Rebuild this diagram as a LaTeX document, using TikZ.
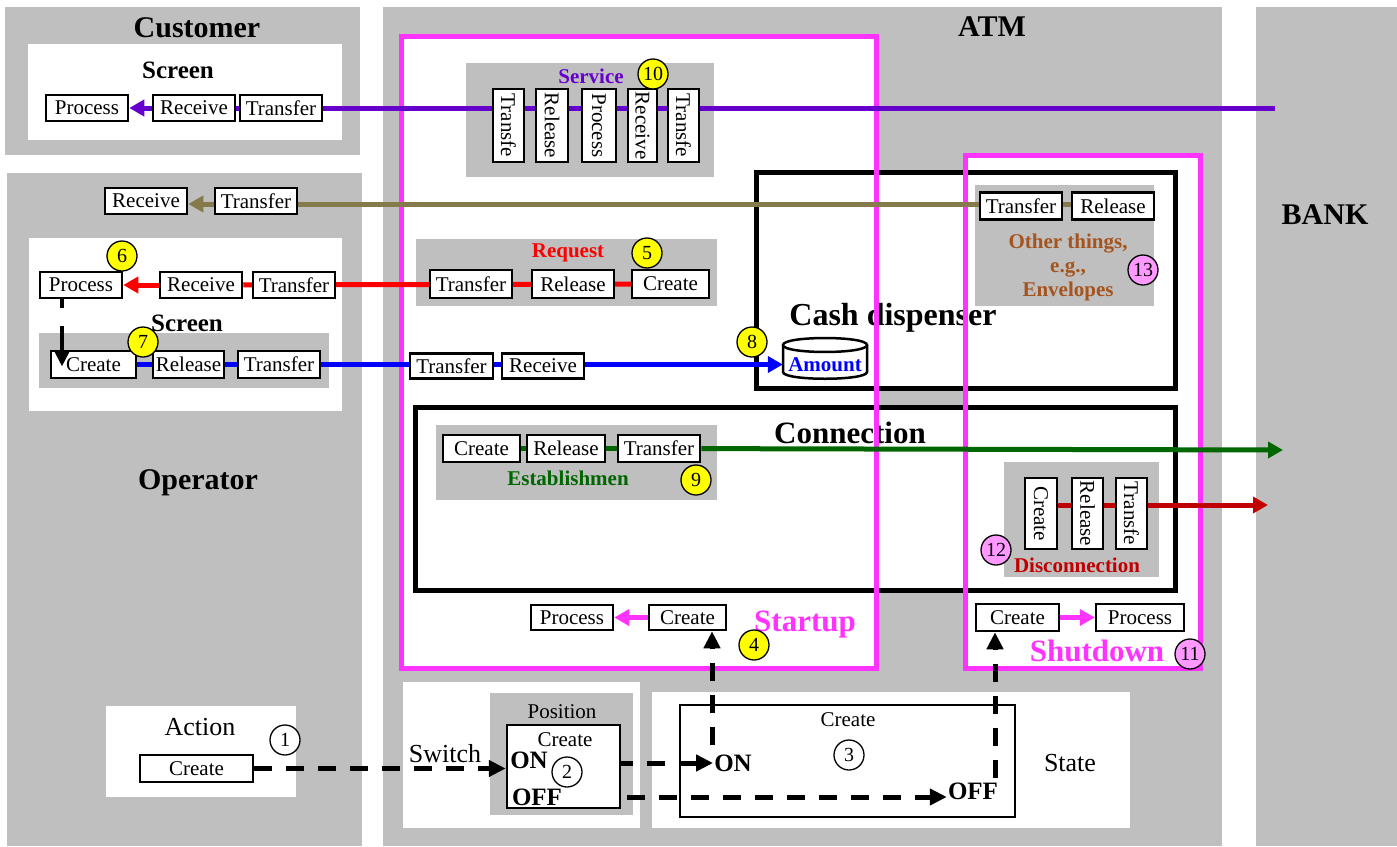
\documentclass[tikz,border=0pt]{standalone}
\usepackage{fontspec}
\setmainfont{Liberation Serif}
\usetikzlibrary{arrows.meta}
\definecolor{pgray}{RGB}{191,191,191}
\definecolor{mag}{RGB}{255,51,255}
\definecolor{purp}{RGB}{102,0,204}
\definecolor{oliv}{RGB}{133,122,76}
\definecolor{grn}{RGB}{0,102,0}
\definecolor{dred}{RGB}{192,0,0}
\definecolor{brn}{RGB}{166,84,30}
\definecolor{pnk}{RGB}{255,153,255}
\definecolor{yel}{RGB}{255,255,0}
\definecolor{rd}{RGB}{255,0,0}
\definecolor{bl}{RGB}{0,0,255}
\newcommand\myfs[1]{\fontsize{#1}{#1}\selectfont}
\pgfdeclarelayer{back}\pgfdeclarelayer{mid}\pgfsetlayers{back,mid,main}
\tikzset{
 bx/.style={draw, line width=2.5pt, fill=white, inner sep=0pt, font=\myfs{21}},
 vbx/.style={bx, rotate=-90},
 circ/.style={circle, draw, line width=1.3pt, minimum size=30pt, inner sep=0pt, font=\myfs{20}},
 ycirc/.style={circ, fill=yel},
 pcirc/.style={circ, fill=pnk},
 wcirc/.style={circ, fill=white},
 conn/.style={line width=5pt},
 tip/.style={-{Triangle[length=15pt,width=16pt]}},
 dasharr/.style={line width=5pt, dash pattern=on 18pt off 14pt, -{Triangle[length=17pt,width=16pt]}},
 bigbox/.style={draw, line width=5pt, fill=white},
 magbox/.style={draw=mag, line width=5pt},
 title/.style={font=\myfs{30}\bfseries},
 sublabel/.style={font=\myfs{21}\bfseries},
}
\begin{document}
\begin{tikzpicture}[x=1pt,y=-1pt]
\useasboundingbox (0,0) rectangle (1397,846);
\begin{pgfonlayer}{back}
\fill[white] (0,0) rectangle (1397,846);
\fill[pgray] (5,7) rectangle (360,155);
\fill[pgray] (7,173) rectangle (362,846);
\fill[pgray] (383,7) rectangle (1222,846);
\fill[pgray] (1256,7) rectangle (1397,846);
\fill[white] (28,44) rectangle (342,140);
\fill[white] (29,238) rectangle (342,411);
\fill[pgray] (39,333) rectangle (329,388);
\fill[white] (401,36) rectangle (876,668);
\fill[white] (965,155) rectangle (1200,668);
\fill[pgray] (466,63) rectangle (714,177);
\fill[pgray] (416,239) rectangle (717,306);
\draw[bigbox] (756,172) rectangle (1175,388);
\draw[bigbox] (415,407) rectangle (1175,590);
\fill[pgray] (975,185) rectangle (1154,306);
\fill[pgray] (436,425) rectangle (717,500);
\fill[pgray] (1004,462) rectangle (1159,577);
\node[font=\myfs{32}\bfseries] (cashT) at (893,318) {Cash dispenser};
\node[font=\myfs{31}\bfseries] (connT) at (850,433) {Connection};
\draw[magbox] (401,36) rectangle (876,668);
\draw[magbox] (965,155) rectangle (1200,668);
\fill[white] (106,706) rectangle (296,797);
\fill[white] (403,682) rectangle (640,828);
\fill[pgray] (490,693) rectangle (633,815);
\fill[white] (652,692) rectangle (1130,828);
\end{pgfonlayer}

% titles
\node[title] (tCust) at (197,28) {Customer};
\node[title] (tAtm) at (992,27) {ATM};
\node[title] (tBank) at (1325,215) {BANK};
\node[title] (tOp) at (198,483) {Operator};
\node[font=\myfs{25}\bfseries] (scr1) at (178,70) {Screen};
\node[font=\myfs{25}\bfseries] (scr2) at (187,323) {Screen};

% customer screen
\node[bx, minimum width=82pt, minimum height=26pt] (cP) at (87,108) {Process};
\node[bx, minimum width=82pt, minimum height=26pt] (cR) at (194,108) {Receive};
\node[bx, minimum width=82pt, minimum height=26pt] (cT) at (281,108) {Transfer};

% operator
\node[bx, minimum width=82pt, minimum height=26pt] (oR) at (146,201) {Receive};
\node[bx, minimum width=82pt, minimum height=26pt] (oT) at (256,201) {Transfer};
\node[bx, minimum width=82pt, minimum height=26pt] (oP) at (81,285) {Process};
\node[bx, minimum width=82pt, minimum height=26pt] (oR2) at (201,285) {Receive};
\node[bx, minimum width=82pt, minimum height=26pt] (oT2) at (294,285) {Transfer};
\node[bx, minimum width=85pt, minimum height=27pt] (oC) at (93.5,364.5) {Create};
\node[bx, minimum width=71pt, minimum height=27pt] (oRl) at (188.5,364.5) {Release};
\node[bx, minimum width=82pt, minimum height=27pt] (oT3) at (279,364.5) {Transfer};

% service
\node[sublabel, text=purp] (svcL) at (591,76) {Service};
\node[vbx, minimum width=73pt, minimum height=31pt] (sT1) at (508.5,125.5) {Transfe};
\node[vbx, minimum width=73pt, minimum height=32pt] (sRl) at (552,125.5) {Release};
\node[vbx, minimum width=73pt, minimum height=34pt] (sP) at (599,125.5) {Process};
\node[vbx, minimum width=73pt, minimum height=29pt] (sRc) at (642.5,125.5) {Receive};
\node[vbx, minimum width=73pt, minimum height=31pt] (sT2) at (683.5,125.5) {Transfe};

% request
\node[sublabel, text=rd] (rqL) at (568,253) {Request};
\node[bx, minimum width=82pt, minimum height=28pt] (rqT) at (471,284) {Transfer};
\node[bx, minimum width=82pt, minimum height=28pt] (rqRl) at (573,284) {Release};
\node[bx, minimum width=77pt, minimum height=28pt] (rqC) at (670.5,284) {Create};

% ATM transfer/receive
\node[bx, minimum width=83pt, minimum height=25pt] (aT) at (451.5,366) {Transfer};
\node[bx, minimum width=82pt, minimum height=25pt] (aR) at (543,366) {Receive};

% amount cylinder
\fill[white] (783,345) -- (783,372) .. controls (783,381) and (867,381) .. (867,372) -- (867,345) -- cycle;
\draw[line width=2.5pt] (783,345) -- (783,372) .. controls (783,381) and (867,381) .. (867,372) -- (867,345);
\draw[line width=2.5pt, fill=white] (783,345) .. controls (783,335.7) and (867,335.7) .. (867,345) .. controls (867,354.3) and (783,354.3) .. (783,345) -- cycle;
\node[font=\myfs{21}\bfseries, text=bl, minimum width=84pt, minimum height=20pt, inner sep=0pt] (amt) at (825,364.5) {Amount};

% other things
\node[bx, minimum width=82pt, minimum height=27pt] (othT) at (1021,206) {Transfer};
\node[bx, minimum width=82pt, minimum height=27pt] (othR) at (1113,206) {Release};
\node[font=\myfs{21}\bfseries, text=brn, align=center] (othL) at (1068,267) {Other things,\\[3pt] e.g.,\\[3pt] Envelopes};

% establishment
\node[bx, minimum width=77pt, minimum height=27pt] (eC) at (481.5,448.5) {Create};
\node[bx, minimum width=78pt, minimum height=27pt] (eRl) at (566,448.5) {Release};
\node[bx, minimum width=82pt, minimum height=27pt] (eT) at (659,448.5) {Transfer};
\node[sublabel, text=grn] (eL) at (568,478) {Establishmen};

% disconnection
\node[vbx, minimum width=71pt, minimum height=32pt] (dC) at (1041,513.5) {Create};
\node[vbx, minimum width=71pt, minimum height=31pt] (dRl) at (1087.5,513.5) {Release};
\node[vbx, minimum width=71pt, minimum height=31pt] (dT) at (1131.5,513.5) {Transfe};
\node[sublabel, text=dred] (dL) at (1077,565) {Disconnection};

% startup / shutdown
\node[bx, minimum width=82pt, minimum height=25pt] (stP) at (572,617.5) {Process};
\node[bx, minimum width=77pt, minimum height=25pt] (stC) at (687.5,617.5) {Create};
\node[font=\myfs{31}\bfseries, text=mag] (stL) at (805,625) {Startup};
\node[bx, minimum width=83pt, minimum height=27pt] (sdC) at (1017.5,617.5) {Create};
\node[bx, minimum width=88pt, minimum height=27pt] (sdP) at (1140,617.5) {Process};
\node[font=\myfs{31}\bfseries, text=mag] (sdL) at (1097,651) {Shutdown};

% bottom
\node[font=\myfs{26}] (actL) at (200,727) {Action};
\node[bx, minimum width=113pt, minimum height=27pt] (acC) at (196.5,768.5) {Create};
\node[font=\myfs{26}] (swL) at (445,754) {Switch};
\node[font=\myfs{21}] (posL) at (562,712) {Position};
\node[draw, line width=2.5pt, fill=white, minimum width=113pt, minimum height=83pt] (posBox) at (563.5,766.5) {};
\node[font=\myfs{21}] (posC) at (565,740) {Create};
\node[font=\myfs{25}\bfseries, inner sep=1pt] (posON) at (529,760) {ON};
\node[font=\myfs{25}\bfseries, inner sep=1pt] (posOFF) at (537,797) {OFF};
\node[draw, line width=2.5pt, minimum width=335pt, minimum height=112pt] (stBox) at (847.5,761) {};
\node[font=\myfs{21}] (stCr) at (848,720) {Create};
\node[font=\myfs{25}\bfseries, inner sep=1pt] (stON) at (733,763) {ON};
\node[font=\myfs{25}\bfseries, inner sep=1pt] (stOFF) at (973,791) {OFF};
\node[font=\myfs{26}] (stateL) at (1070,763) {State};

% circles
\node[wcirc] (c1) at (285,740) {1};
\node[wcirc] (c2) at (567,772) {2};
\node[wcirc] (c3) at (849,755) {3};
\node[ycirc] (c4) at (754,645) {4};
\node[ycirc] (c5) at (647,253) {5};
\node[ycirc] (c6) at (122,256) {6};
\node[ycirc] (c7) at (143,342) {7};
\node[ycirc] (c8) at (752,342) {8};
\node[ycirc] (c9) at (696,480) {9};
\node[ycirc] (c10) at (653,74) {10};
\node[pcirc] (c11) at (1190,654) {11};
\node[pcirc] (c12) at (996,550) {12};
\node[pcirc] (c13) at (1143,270) {13};

\coordinate (pEnd) at (1275,108);
\coordinate (gEnd) at (1283,450);
\coordinate (rEnd) at (1268,505);
\coordinate (onUp) at (712,745);
\coordinate (offUp) at (995,778);
\coordinate (olvY) at (0,204);

\begin{pgfonlayer}{mid}
\draw[conn, purp] (pEnd) -- (cR);
\draw[conn, purp, tip] (cR.west) -- (cP.east);
\draw[conn, oliv] (othR |- olvY) -- (oT |- olvY);
\draw[conn, oliv, tip] (oT.west |- olvY) -- (oR.east |- olvY);
\draw[conn, rd] (rqC) -- (oR2);
\draw[conn, rd, tip] (oR2.west) -- (oP.east);
\draw[conn, bl, tip] (oC) -- (oC -| amt.west);
\draw[conn, grn] (eC) -- (eT);
\draw[conn, grn, tip] (eT) -- (gEnd);
\draw[conn, dred, tip] (rEnd -| dC) -- (rEnd);
\draw[conn, mag, tip] (stC.west) -- (stP.east);
\draw[conn, mag, tip] (sdC.east) -- (sdP.west);
\draw[dasharr] (acC.east) -- (acC.east -| posBox.west);
\draw[dasharr] (c2.east |- stON.west) -- (stON.west);
\draw[dasharr] (posOFF.east) -- (posOFF.east -| stOFF.west);
\draw[dasharr] (onUp) -- (onUp |- stC.south);
\draw[dasharr] (offUp) -- (offUp |- sdC.south);
\end{pgfonlayer}

\coordinate (pd) at ([xshift=-19pt]oP.south);
\draw[line width=4.5pt, dash pattern=on 9pt off 18pt on 40pt off 0pt, -{Triangle[length=16pt,width=15pt]}] (pd) -- ([yshift=-2pt]pd |- oC.center);
\end{tikzpicture}
\end{document}
